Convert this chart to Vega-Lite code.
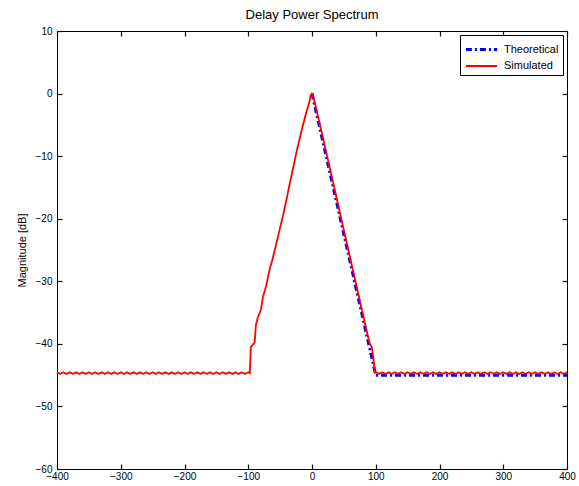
{
  "$schema": "https://vega.github.io/schema/vega-lite/v6.json",
  "width": 510,
  "height": 438,
  "autosize": {"type": "none"},
  "padding": {"left": 57, "top": 31, "right": 12, "bottom": 17},
  "background": "white",
  "title": {"text": "Delay Power Spectrum", "font": "Liberation Sans", "fontSize": 13, "fontWeight": "normal", "color": "black", "offset": 4},
  "config": {
    "font": "Liberation Sans",
    "view": {"stroke": "black", "strokeWidth": 1},
    "axis": {"grid": false, "domain": false, "tickWidth": 1.2, "tickSize": 5, "offset": -5, "zindex": 1, "labelFlush": false, "labelColor": "black", "labelFont": "Liberation Sans", "labelFontSize": 10, "titleFont": "Liberation Sans", "titleFontWeight": "normal", "titleFontSize": 11, "titleColor": "black"}
  },
  "resolve": {"axis": {"x": "independent", "y": "independent"}},
  "datasets": {
    "sim": [
      {"x": -400, "y": -44.55}, {"x": -395, "y": -44.8}, {"x": -390, "y": -44.55}, {"x": -385, "y": -44.8}, {"x": -380, "y": -44.55}, {"x": -375, "y": -44.8}, {"x": -370, "y": -44.55}, {"x": -365, "y": -44.8}, {"x": -360, "y": -44.55}, {"x": -355, "y": -44.8},
      {"x": -350, "y": -44.55}, {"x": -345, "y": -44.8}, {"x": -340, "y": -44.55}, {"x": -335, "y": -44.8}, {"x": -330, "y": -44.55}, {"x": -325, "y": -44.8}, {"x": -320, "y": -44.55}, {"x": -315, "y": -44.8}, {"x": -310, "y": -44.55}, {"x": -305, "y": -44.8},
      {"x": -300, "y": -44.55}, {"x": -295, "y": -44.8}, {"x": -290, "y": -44.55}, {"x": -285, "y": -44.8}, {"x": -280, "y": -44.55}, {"x": -275, "y": -44.8}, {"x": -270, "y": -44.55}, {"x": -265, "y": -44.8}, {"x": -260, "y": -44.55}, {"x": -255, "y": -44.8},
      {"x": -250, "y": -44.55}, {"x": -245, "y": -44.8}, {"x": -240, "y": -44.55}, {"x": -235, "y": -44.8}, {"x": -230, "y": -44.55}, {"x": -225, "y": -44.8}, {"x": -220, "y": -44.55}, {"x": -215, "y": -44.8}, {"x": -210, "y": -44.55}, {"x": -205, "y": -44.8},
      {"x": -200, "y": -44.55}, {"x": -195, "y": -44.8}, {"x": -190, "y": -44.55}, {"x": -185, "y": -44.8}, {"x": -180, "y": -44.55}, {"x": -175, "y": -44.8}, {"x": -170, "y": -44.55}, {"x": -165, "y": -44.8}, {"x": -160, "y": -44.55}, {"x": -155, "y": -44.8},
      {"x": -150, "y": -44.55}, {"x": -145, "y": -44.8}, {"x": -140, "y": -44.55}, {"x": -135, "y": -44.8}, {"x": -130, "y": -44.55}, {"x": -125, "y": -44.8}, {"x": -120, "y": -44.55}, {"x": -115, "y": -44.8}, {"x": -110, "y": -44.55}, {"x": -105, "y": -44.8},
      {"x": -100, "y": -44.55}, {"x": -97.5, "y": -44.7},
      {"x": -96, "y": -40.5}, {"x": -90, "y": -39.8}, {"x": -88, "y": -37}, {"x": -85, "y": -35.8}, {"x": -80, "y": -34.5}, {"x": -77, "y": -32.5}, {"x": -72, "y": -30.8}, {"x": -67, "y": -28.3}, {"x": -62, "y": -26.5}, {"x": -56, "y": -24}, {"x": -50, "y": -21.4},
      {"x": -45, "y": -19.3}, {"x": -40, "y": -16.9}, {"x": -34.5, "y": -14.2}, {"x": -29, "y": -11.6}, {"x": -24, "y": -9.2}, {"x": -18, "y": -6.6}, {"x": -13.6, "y": -4.8}, {"x": -9, "y": -3}, {"x": -5.8, "y": -2}, {"x": -2, "y": -0.3},
      {"x": 0, "y": 0}, {"x": 1.5, "y": -0.2}, {"x": 4, "y": -1.3}, {"x": 7, "y": -2.6}, {"x": 15, "y": -6.1}, {"x": 25, "y": -10.6}, {"x": 35, "y": -15.1}, {"x": 45, "y": -19.6}, {"x": 55, "y": -24.1}, {"x": 65, "y": -28.6},
      {"x": 75, "y": -33.1}, {"x": 85, "y": -37.6}, {"x": 90, "y": -39.8}, {"x": 94, "y": -40.6}, {"x": 96, "y": -42}, {"x": 98.5, "y": -44.6},
      {"x": 100, "y": -44.55}, {"x": 105, "y": -44.8}, {"x": 110, "y": -44.55}, {"x": 115, "y": -44.8}, {"x": 120, "y": -44.55}, {"x": 125, "y": -44.8}, {"x": 130, "y": -44.55}, {"x": 135, "y": -44.8}, {"x": 140, "y": -44.55}, {"x": 145, "y": -44.8},
      {"x": 150, "y": -44.55}, {"x": 155, "y": -44.8}, {"x": 160, "y": -44.55}, {"x": 165, "y": -44.8}, {"x": 170, "y": -44.55}, {"x": 175, "y": -44.8}, {"x": 180, "y": -44.55}, {"x": 185, "y": -44.8}, {"x": 190, "y": -44.55}, {"x": 195, "y": -44.8},
      {"x": 200, "y": -44.55}, {"x": 205, "y": -44.8}, {"x": 210, "y": -44.55}, {"x": 215, "y": -44.8}, {"x": 220, "y": -44.55}, {"x": 225, "y": -44.8}, {"x": 230, "y": -44.55}, {"x": 235, "y": -44.8}, {"x": 240, "y": -44.55}, {"x": 245, "y": -44.8},
      {"x": 250, "y": -44.55}, {"x": 255, "y": -44.8}, {"x": 260, "y": -44.55}, {"x": 265, "y": -44.8}, {"x": 270, "y": -44.55}, {"x": 275, "y": -44.8}, {"x": 280, "y": -44.55}, {"x": 285, "y": -44.8}, {"x": 290, "y": -44.55}, {"x": 295, "y": -44.8},
      {"x": 300, "y": -44.55}, {"x": 305, "y": -44.8}, {"x": 310, "y": -44.55}, {"x": 315, "y": -44.8}, {"x": 320, "y": -44.55}, {"x": 325, "y": -44.8}, {"x": 330, "y": -44.55}, {"x": 335, "y": -44.8}, {"x": 340, "y": -44.55}, {"x": 345, "y": -44.8},
      {"x": 350, "y": -44.55}, {"x": 355, "y": -44.8}, {"x": 360, "y": -44.55}, {"x": 365, "y": -44.8}, {"x": 370, "y": -44.55}, {"x": 375, "y": -44.8}, {"x": 380, "y": -44.55}, {"x": 385, "y": -44.8}, {"x": 390, "y": -44.55}, {"x": 395, "y": -44.8},
      {"x": 400, "y": -44.55}
    ],
    "theo": [
      {"x": 0, "y": 0}, {"x": 100, "y": -45}, {"x": 400, "y": -45}
    ]
  },
  "layer": [
    {
      "data": {"name": "theo"},
      "transform": [{"calculate": "'Theoretical'", "as": "series"}],
      "mark": {"type": "line"},
      "encoding": {
        "x": {"field": "x", "type": "quantitative", "scale": {"domain": [-400, 400], "nice": false}, "axis": {"title": null, "values": [-400, -300, -200, -100, 0, 100, 200, 300, 400], "labelPadding": 2, "tickColor": "#111111"}},
        "y": {"field": "y", "type": "quantitative", "scale": {"domain": [-60, 10], "nice": false}, "axis": {"title": "Magnitude [dB]", "values": [-60, -50, -40, -30, -20, -10, 0, 10], "labelPadding": 5, "titlePadding": 8, "tickColor": "#111111"}},
        "color": {"field": "series", "type": "nominal", "scale": {"domain": ["Theoretical", "Simulated"], "range": ["#0000ff", "#ff0000"]}, "legend": {"title": null, "orient": "top-right", "offset": 4, "strokeColor": "black", "fillColor": "white", "padding": 4, "labelFontSize": 11, "labelColor": "black", "symbolType": "M-1.8,0H1.8", "symbolSize": 300, "rowPadding": 0, "labelOffset": 12, "cornerRadius": 0, "symbolOffset": 7}},
        "strokeDash": {"field": "series", "type": "nominal", "scale": {"domain": ["Theoretical", "Simulated"], "range": [[6, 3, 2, 3], [1, 0]]}},
        "strokeWidth": {"field": "series", "type": "nominal", "scale": {"domain": ["Theoretical", "Simulated"], "range": [3, 1.8]}}
      }
    },
    {
      "data": {"name": "sim"},
      "transform": [{"calculate": "'Simulated'", "as": "series"}],
      "mark": {"type": "line"},
      "encoding": {
        "x": {"field": "x", "type": "quantitative", "axis": null},
        "y": {"field": "y", "type": "quantitative", "axis": null},
        "color": {"field": "series", "type": "nominal"},
        "strokeDash": {"field": "series", "type": "nominal"},
        "strokeWidth": {"field": "series", "type": "nominal"}
      }
    },
    {
      "data": {"name": "theo"},
      "mark": {"type": "line", "opacity": 0},
      "encoding": {
        "x": {"field": "x", "type": "quantitative", "axis": {"orient": "top", "title": null, "labels": false, "tickColor": "#111111", "values": [-400, -300, -200, -100, 0, 100, 200, 300, 400]}},
        "y": {"field": "y", "type": "quantitative", "axis": {"orient": "right", "title": null, "labels": false, "tickColor": "#111111", "values": [-60, -50, -40, -30, -20, -10, 0, 10]}}
      }
    }
  ]
}
